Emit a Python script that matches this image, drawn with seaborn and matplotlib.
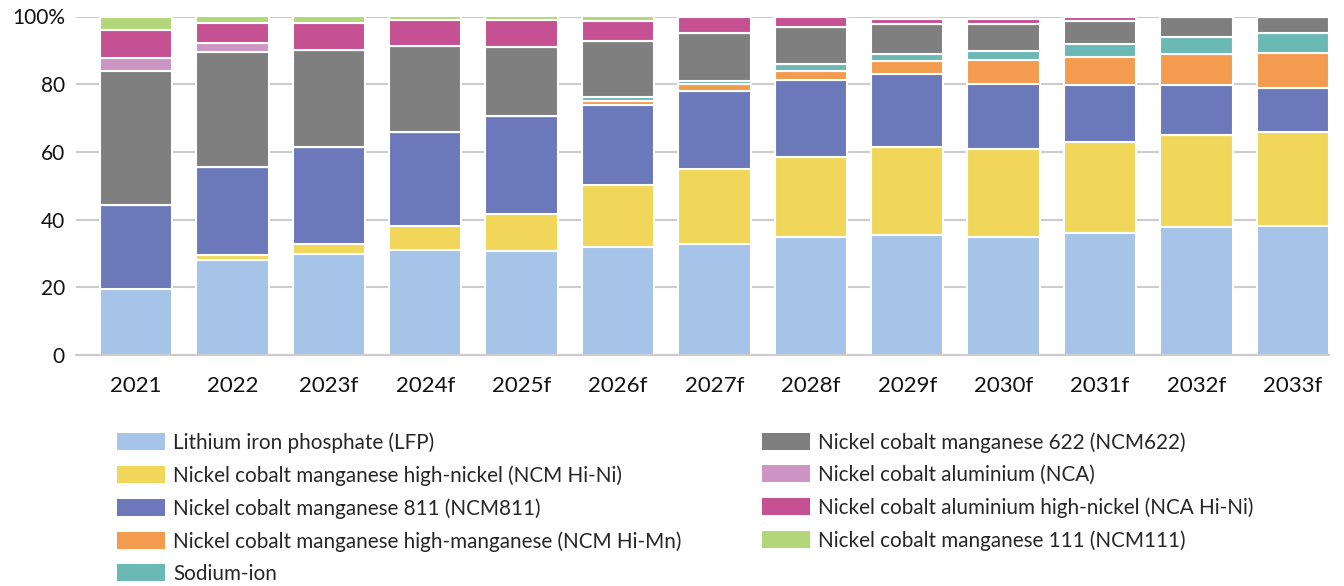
import pandas as pd
import matplotlib
matplotlib.use("Agg")
import matplotlib.pyplot as plt
from matplotlib.patches import Patch
import seaborn as sns

years = ["2021", "2022", "2023f", "2024f", "2025f", "2026f", "2027f",
         "2028f", "2029f", "2030f", "2031f", "2032f", "2033f"]

chemistries = [
    "Lithium iron phosphate (LFP)",
    "Nickel cobalt manganese high-nickel (NCM Hi-Ni)",
    "Nickel cobalt manganese 811 (NCM811)",
    "Nickel cobalt manganese high-manganese (NCM Hi-Mn)",
    "Sodium-ion",
    "Nickel cobalt manganese 622 (NCM622)",
    "Nickel cobalt aluminium (NCA)",
    "Nickel cobalt aluminium high-nickel (NCA Hi-Ni)",
    "Nickel cobalt manganese 111 (NCM111)",
]
colors = ["#A5C4E7", "#F0D75A", "#6B78B9", "#F39C50", "#6AB9B5",
          "#7F7F7F", "#CD95C4", "#C55092", "#B2D77B"]

# share of demand, %
lfp = [19.4, 28.1, 29.8, 31.1, 30.8, 32.0, 32.8, 34.8, 35.5, 35.0, 36.0, 37.9, 38.2]
ncm_hi_ni = [0, 1.4, 3.0, 7.0, 10.8, 18.1, 22.1, 23.7, 26.0, 25.9, 27.0, 27.0, 27.8]
ncm811 = [25.0, 26.1, 28.7, 27.9, 29.1, 23.9, 23.2, 22.6, 21.4, 19.2, 16.9, 15.0, 13.0]
ncm_hi_mn = [0, 0, 0, 0, 0, 1.0, 2.1, 2.9, 4.1, 7.1, 8.0, 8.9, 10.1]
sodium = [0, 0, 0, 0, 0, 1.3, 0.8, 2.1, 2.0, 2.7, 4.1, 5.2, 5.9]
ncm622 = [39.5, 33.8, 28.6, 25.2, 20.4, 16.6, 14.0, 10.9, 8.9, 8.0, 6.8, 6.0, 5.0]
nca = [3.9, 2.7, 0, 0, 0, 0, 0, 0, 0, 0, 0, 0, 0]
nca_hi_ni = [8.1, 5.9, 8.0, 7.9, 8.0, 5.9, 5.0, 3.0, 1.5, 1.5, 1.2, 0, 0]
ncm111 = [4.1, 2.0, 1.9, 0.9, 0.9, 1.2, 0, 0, 0, 0, 0, 0, 0]

series = [lfp, ncm_hi_ni, ncm811, ncm_hi_mn, sodium, ncm622, nca, nca_hi_ni, ncm111]

rows = []
for name, vals in zip(chemistries, series):
    for yr, v in zip(years, vals):
        rows.append({"year": yr, "chem": name, "share": v})
df = pd.DataFrame(rows)
df["year"] = pd.Categorical(df["year"], categories=years, ordered=True)

sns.set_theme(style="white")
plt.rcParams["font.family"] = ["Lato", "DejaVu Sans"]

fig = plt.figure(figsize=(13.44, 5.86), dpi=100)
ax = fig.add_axes([76 / 1344, 1 - 355 / 586, (1329 - 76) / 1344, (355 - 16.5) / 586])

palette = dict(zip(chemistries, colors))
# seaborn stacks the last hue level at the bottom
sns.histplot(data=df, x="year", weights="share", hue="chem",
             hue_order=chemistries[::-1], multiple="stack", discrete=True,
             shrink=0.75, palette=palette, edgecolor="white", linewidth=1.5,
             alpha=1, legend=False, ax=ax)

ax.set_xlim(-0.622, 12.375)
ax.set_ylim(0, 100)
ax.set_xticks(range(len(years)))
ax.set_xticklabels(years)
ax.set_yticks([0, 20, 40, 60, 80, 100])
ax.set_yticklabels(["0", "20", "40", "60", "80", "100%"])
ax.set_xlabel("")
ax.set_ylabel("")

ax.yaxis.grid(True, color="#CCCCCC", linewidth=1.5)
ax.set_axisbelow(True)
for s in ["left", "right", "top"]:
    ax.spines[s].set_visible(False)
ax.spines["bottom"].set_color("#CCCCCC")
ax.spines["bottom"].set_linewidth(1.5)
ax.tick_params(axis="x", length=9, width=1.5, color="#CCCCCC", pad=6,
               labelsize=16, labelcolor="#111111")
ax.tick_params(axis="y", length=0, pad=8, labelsize=15, labelcolor="#111111")

handles = [Patch(facecolor=c, edgecolor="none") for c in colors]
leg_kw = dict(frameon=False, fontsize=14.9, handlelength=2.3, handleheight=0.9,
              handletextpad=0.4, labelspacing=0.6, borderpad=0,
              borderaxespad=0, loc="upper left")
fig.legend(handles[:5], chemistries[:5], bbox_to_anchor=(117 / 1344, 1 - 432 / 586), **leg_kw)
fig.legend(handles[5:], chemistries[5:], bbox_to_anchor=(762 / 1344, 1 - 432 / 586), **leg_kw)

fig.savefig("out.png", dpi=100)
